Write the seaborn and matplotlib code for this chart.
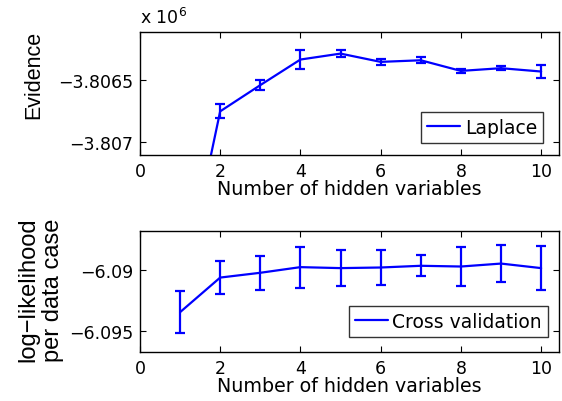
import matplotlib

matplotlib.use("Agg")

import matplotlib.pyplot as plt
import numpy as np
import pandas as pd
import seaborn as sns

# number of hidden variables
hidden = [1, 2, 3, 4, 5, 6, 7, 8, 9, 10]

# Laplace evidence (in units of 1e6) with error bars
evidence = [-3.80829, -3.806752, -3.80654, -3.806333, -3.806285,
            -3.806352, -3.806339, -3.806425, -3.806403, -3.80643]
evidence_err = [0.00006, 0.000057, 0.00004, 0.000075, 0.00003,
                0.000025, 0.000024, 0.000013, 0.000016, 0.000054]

# cross validation log-likelihood per data case
cv_loglik = [-6.09345, -6.09063, -6.09024, -6.08978, -6.08986,
             -6.08981, -6.08967, -6.08973, -6.08949, -6.08986]
cv_err = [0.00173, 0.00135, 0.00139, 0.00167, 0.00144,
          0.00141, 0.00087, 0.00156, 0.00148, 0.00182]

sns.set_style("ticks")
plt.rcParams["font.family"] = ["DejaVu Sans"]
plt.rcParams["xtick.direction"] = "in"
plt.rcParams["ytick.direction"] = "in"
plt.rcParams["axes.linewidth"] = 1.0
for key in ["text.color", "axes.labelcolor", "xtick.color", "ytick.color",
            "xtick.labelcolor", "ytick.labelcolor", "axes.edgecolor"]:
    plt.rcParams[key] = "black"

blue = "#0000ff"
fs_tick = 12.5
fs_xlabel = 13.7
fs_legend = 13.5
ylabel_font = ["Liberation Sans", "DejaVu Sans"]

fig = plt.figure(figsize=(5.62, 4.02), dpi=100)
ax1 = fig.add_axes([0.249, 0.612, 0.746, 0.306])
ax2 = fig.add_axes([0.249, 0.122, 0.746, 0.302])

df_top = pd.DataFrame({"hidden": hidden, "value": evidence})
df_bot = pd.DataFrame({"hidden": hidden, "value": cv_loglik})


def draw_panel(ax, df, err, label, legend_anchor):
    sns.lineplot(data=df, x="hidden", y="value", ax=ax, color=blue,
                 linewidth=1.6, label=label)
    ax.errorbar(df["hidden"], df["value"], yerr=err, fmt="none",
                ecolor=blue, elinewidth=1.6, capsize=3.5, capthick=1.6)
    ax.set_xlim(0, 10.45)
    ax.set_xticks([0, 2, 4, 6, 8, 10])
    ax.tick_params(axis="both", which="both", top=True, right=True,
                   labelsize=fs_tick, length=4, width=0.8, pad=5,
                   colors="black")
    ax.set_xlabel("Number of hidden variables", fontsize=fs_xlabel,
                  labelpad=-1)
    leg = ax.legend(loc="lower right", bbox_to_anchor=legend_anchor,
                    fontsize=fs_legend, frameon=True, fancybox=False,
                    edgecolor="black", handlelength=1.75, handletextpad=0.25,
                    borderpad=0.33, borderaxespad=0.0, labelcolor="black")
    leg.get_frame().set_linewidth(1.0)
    for sp in ax.spines.values():
        sp.set_color("black")


draw_panel(ax1, df_top, evidence_err, "Laplace", (0.962, 0.098))
ax1.set_ylim(-3.807105, -3.80611)
ax1.set_yticks([-3.807, -3.8065])
ax1.set_yticklabels(["\u22123.807", "\u22123.8065"])
ax1.set_ylabel("Evidence", fontsize=15.5, family=ylabel_font)
ax1.yaxis.set_label_coords(-0.228, 0.66)
ax1.text(0.0, 1.04, "x 10$^{6}$", transform=ax1.transAxes, fontsize=12.5,
         ha="left", va="bottom")

draw_panel(ax2, df_bot, cv_err, "Cross validation", (0.974, 0.124))
ax2.set_ylim(-6.09669, -6.0868)
ax2.set_yticks([-6.095, -6.09])
ax2.set_yticklabels(["\u22126.095", "\u22126.09"])
ax2.set_ylabel("log\u2212likelihood\nper data case", fontsize=17,
               family=ylabel_font, linespacing=1.2)
ax2.yaxis.set_label_coords(-0.18, 0.52)

fig.savefig("out.png", dpi=100)
